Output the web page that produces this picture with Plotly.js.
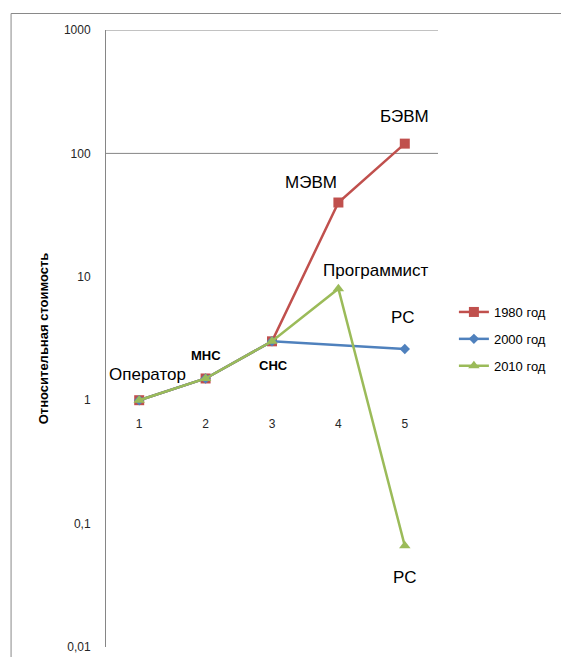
<!DOCTYPE html>
<html>
<head>
<meta charset="utf-8">
<script src="https://cdn.plot.ly/plotly-3.0.1.min.js"></script>
<style>html,body{margin:0;padding:0;background:#fff;}#chart{width:561px;height:657px;}</style>
</head>
<body>
<div id="chart"></div>
<script>
const categories = [1, 2, 3, 4, 5];
const series1980 = [1, 1.5, 3, 40, 120];
const series2000 = [1, 1.5, 3, null, 2.6];
const series2010 = [1, 1.5, 3, 8, 0.066];
const seriesNames = ['1980 год', '2000 год', '2010 год'];
const yTickVals = [0.01, 0.1, 1, 10, 100, 1000];
const yTickText = ['0,01', '0,1', '1', '10', '100', '1000'];
const gridVals = [100, 1000];
const pointLabels = [
  {text: 'БЭВМ', x: 5.00, y: 200, size: 17, bold: false},
  {text: 'МЭВМ', x: 3.58, y: 58, size: 17, bold: false},
  {text: 'Программист', x: 4.57, y: 11.3, size: 17, bold: false},
  {text: 'РС', x: 4.96, y: 4.7, size: 17, bold: false},
  {text: 'РС', x: 4.99, y: 0.0368, size: 17, bold: false},
  {text: 'Оператор', x: 1.13, y: 1.63, size: 17, bold: false},
  {text: 'МНС', x: 2.00, y: 2.32, size: 13, bold: true},
  {text: 'СНС', x: 3.03, y: 1.92, size: 13, bold: true}
];

const colors = ['#C0504D', '#4F81BD', '#9BBB59'];
const symbols = ['square', 'diamond', 'triangle-up'];
const msizes = [10, 8, 10];
const allSeries = [series1980, series2000, series2010];

const traces = allSeries.map((s, i) => ({
  x: categories,
  y: s,
  name: seriesNames[i],
  legendgroup: 'g' + i,
  type: 'scatter',
  mode: 'lines+markers',
  connectgaps: true,
  line: {color: colors[i], width: 2.5},
  marker: {color: colors[i], symbol: symbols[i], size: msizes[i]},
  cliponaxis: false
}));

const L = 106, R = 440, T = 30, B = 647;
const W = R - L, H = B - T;
function px2x(px) { return (px - L) / W; }
function py2y(py) { return (B - py) / H; }

const layout = {
  width: 561, height: 657,
  margin: {l: L, r: 561 - R, t: T, b: 657 - B},
  paper_bgcolor: '#ffffff',
  plot_bgcolor: '#ffffff',
  font: {family: 'Liberation Sans, Arial, sans-serif', color: '#000'},
  showlegend: true,
  separators: ', ',
  xaxis: {
    range: [0.5, 5.5],
    tickvals: categories,
    ticktext: categories.map(String),
    showgrid: false, zeroline: false, showline: false,
    ticks: '',
    anchor: 'free', position: 0.4,
    ticklabelstandoff: 15,
    tickfont: {size: 12, color: '#262626'}
  },
  yaxis: {
    type: 'log',
    range: [-2, 3],
    tickvals: yTickVals,
    ticktext: yTickText,
    showgrid: false, zeroline: false,
    showline: true, linecolor: '#868686', linewidth: 1,
    ticks: '',
    ticklabelstandoff: 12,
    tickfont: {size: 12, color: '#262626'},
    title: {text: 'Относительная стоимость', font: {size: 13, color: '#000', weight: 'bold'}, standoff: 12}
  },
  legend: {
    x: px2x(456), xanchor: 'left',
    y: py2y(297), yanchor: 'top',
    traceorder: 'grouped',
    tracegroupgap: 7,
    font: {size: 13, color: '#000'},
    bgcolor: 'rgba(0,0,0,0)'
  },
  shapes: gridVals.map(v => ({
    type: 'line', xref: 'paper', x0: 0, x1: 1, yref: 'y', y0: v, y1: v,
    line: {color: '#868686', width: 1}, layer: 'below'
  })).concat([
    {type: 'rect', xref: 'paper', yref: 'paper', x0: px2x(10.5), x1: px2x(700), y0: py2y(800), y1: py2y(13.5),
     line: {color: '#898989', width: 1}, fillcolor: 'rgba(0,0,0,0)'}
  ]),
  annotations: pointLabels.map(p => ({
    text: p.bold ? '<b>' + p.text + '</b>' : p.text,
    x: p.x, y: Math.log10(p.y), xref: 'x', yref: 'y',
    showarrow: false,
    font: {size: p.size, color: '#000'}
  }))
};

Plotly.newPlot('chart', traces, layout, {displayModeBar: false, staticPlot: true});
</script>
</body>
</html>
